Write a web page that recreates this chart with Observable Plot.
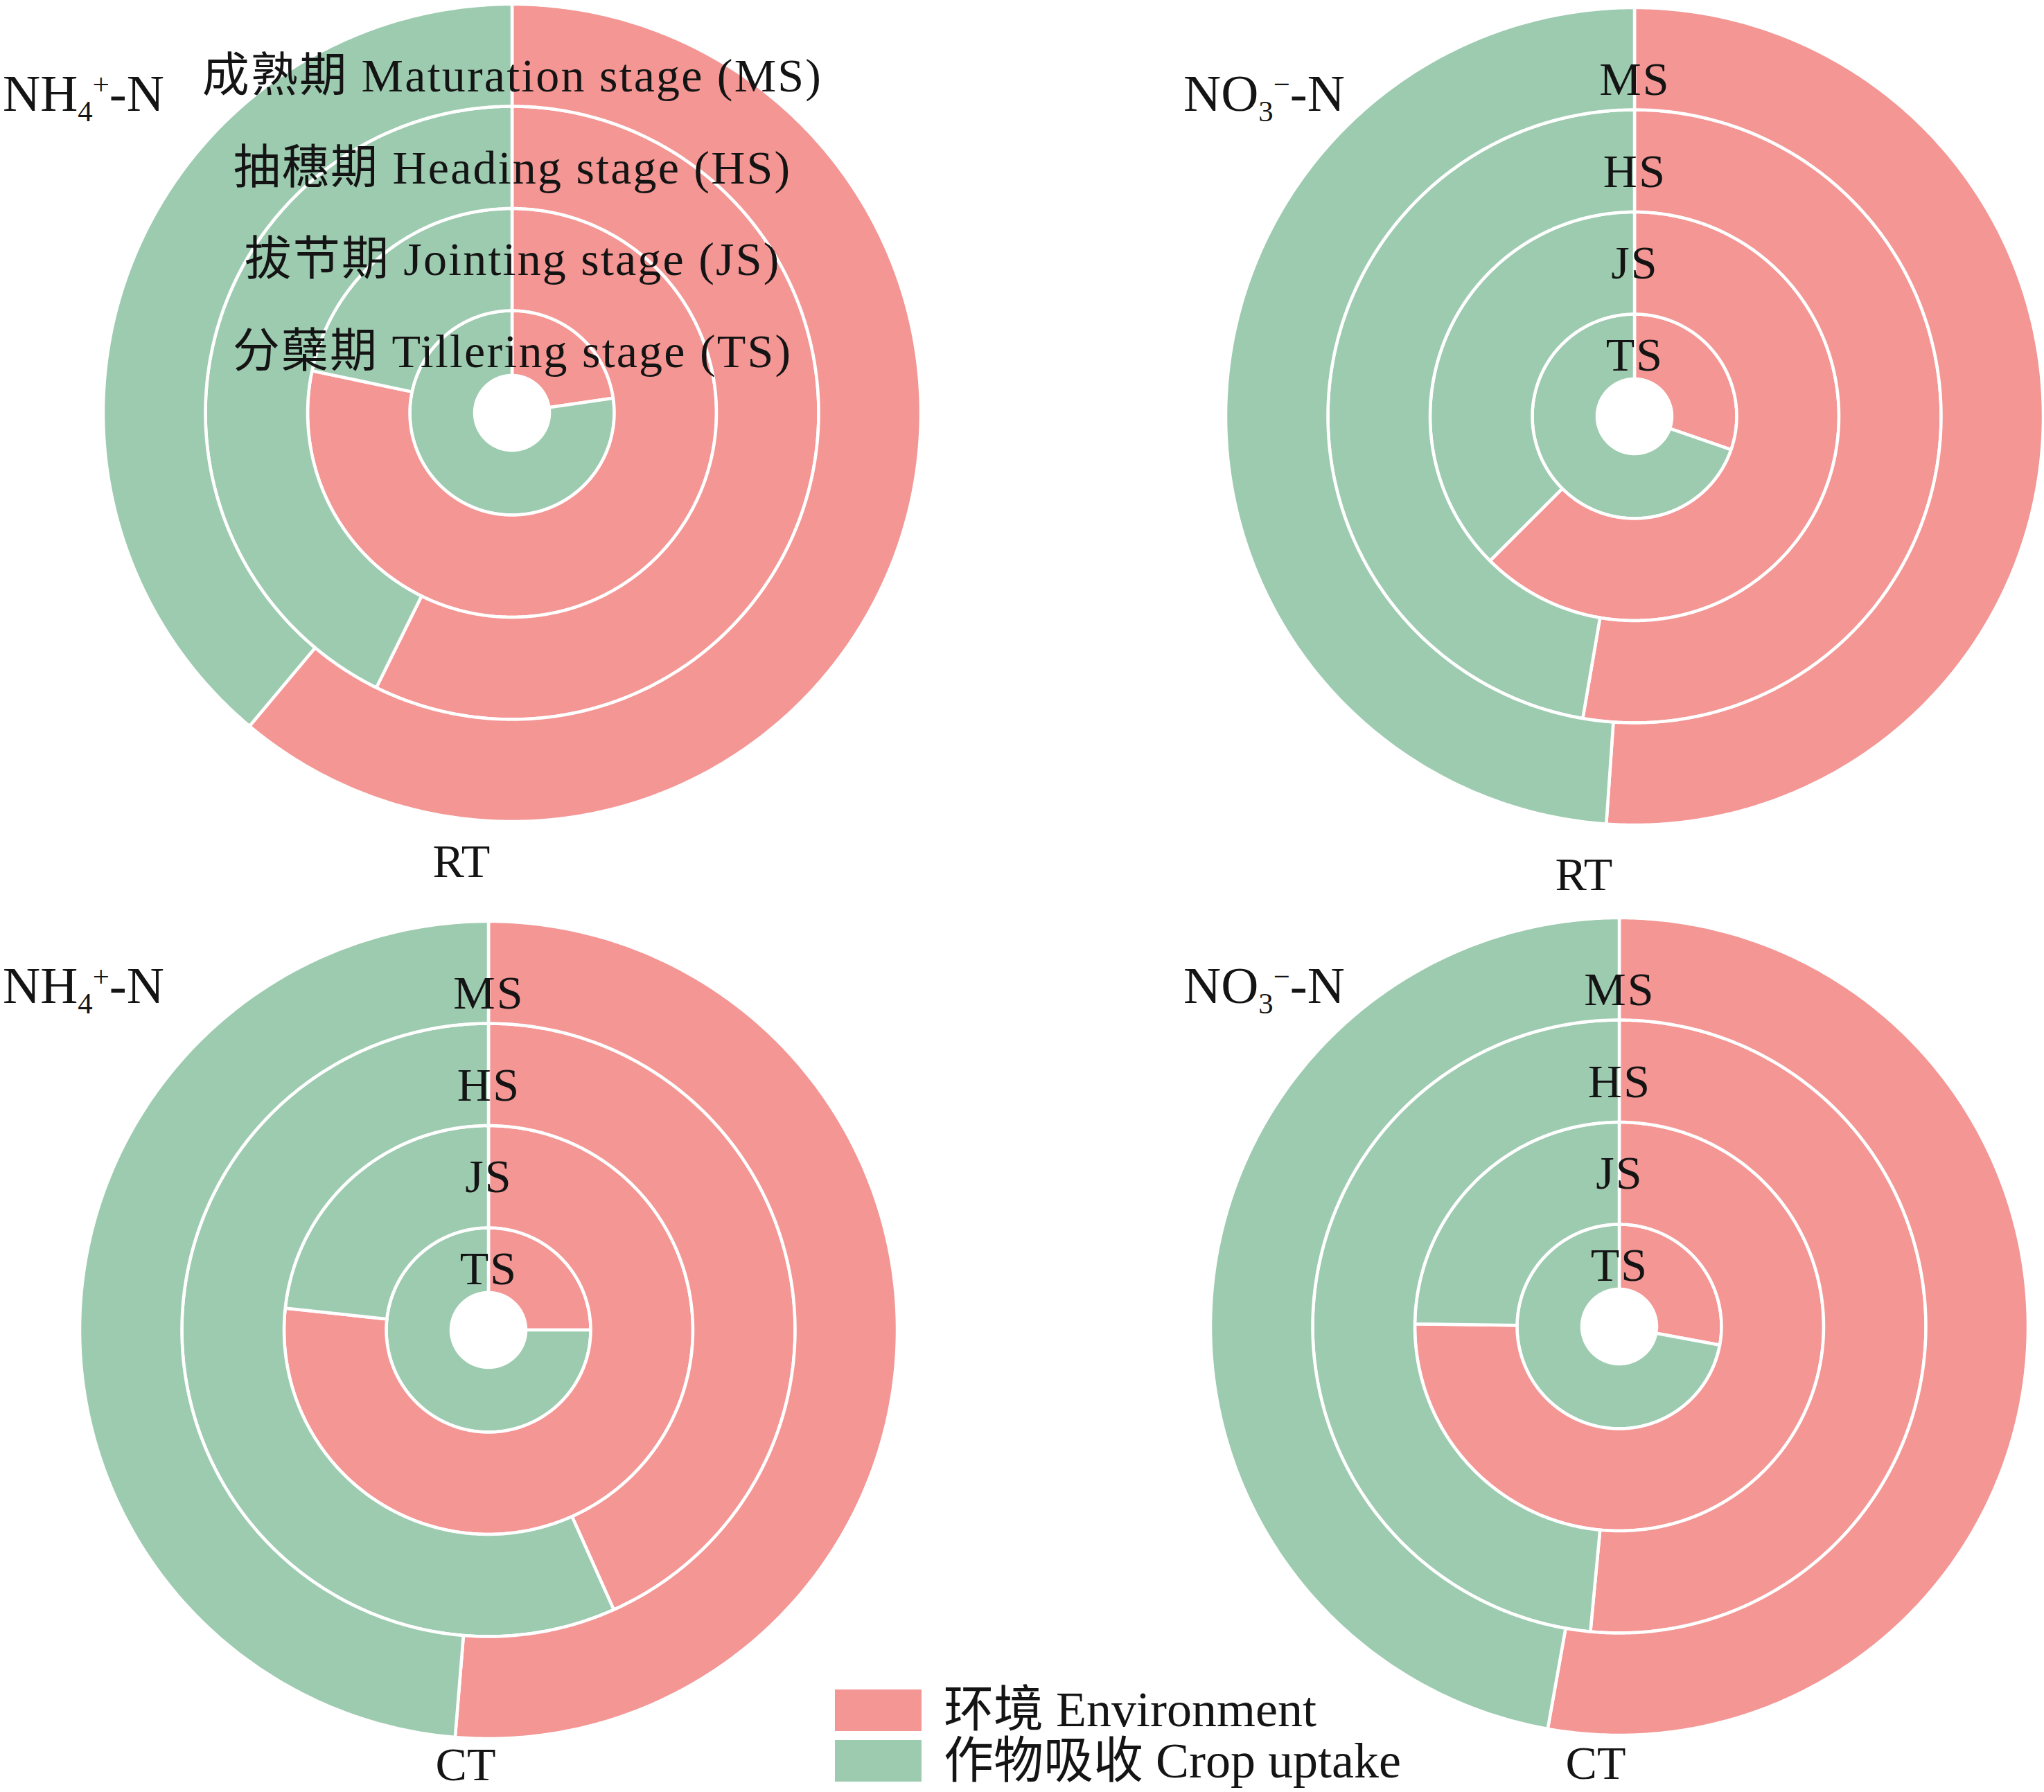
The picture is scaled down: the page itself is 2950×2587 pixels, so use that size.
<!DOCTYPE html>
<html><head><meta charset="utf-8">
<script src="https://cdn.jsdelivr.net/npm/d3@7"></script>
<script src="https://cdn.jsdelivr.net/npm/@observablehq/plot@0.6"></script>
<style>
html,body{margin:0;padding:0;background:#fff;}
#page{position:relative;width:2950px;height:2587px;overflow:hidden;font-family:"Liberation Serif","Times New Roman","Noto Sans CJK SC",serif;color:#141414;}
.panel{position:absolute;width:1200px;height:1200px;}
.panel svg{overflow:visible;}
.txt{position:absolute;line-height:1;white-space:nowrap;}
.title{font-size:75px;}
.sub{font-size:0.57em;vertical-align:-0.36em;}
.sup{font-size:0.57em;vertical-align:0.56em;}
.cap{font-size:68px;transform:translateX(-50%);}
.sw{position:absolute;width:125px;height:60px;}
.leg{font-size:72px;}
</style></head><body><div id="page"></div>
<script>
// ---- data ----
const stages = ["TS", "JS", "HS", "MS"];
const stageFull = ["分蘖期 Tillering stage (TS)", "拔节期 Jointing stage (JS)", "抽穗期 Heading stage (HS)", "成熟期 Maturation stage (MS)"];
const types = ["环境 Environment", "作物吸收 Crop uptake"];
const colors = ["#F39694", "#9DCBB0"];
// Environment share (%) by stage TS, JS, HS, MS; the rest is crop uptake
const envNH4RT = [22.7, 78.3, 57.3, 61.1];
const envNO3RT = [30.3, 62.5, 52.7, 51.1];
const envNH4CT = [25.0, 76.7, 43.3, 51.3];
const envNO3CT = [27.9, 75.2, 51.5, 52.8];
const panelTitles = ["NH4+-N", "NO3−-N", "NH4+-N", "NO3−-N"];
const panelTillage = ["RT", "RT", "CT", "CT"];

// ---- layout ----
const S = 1200, R = 590;
const ringEdges = [0.0915, 0.25, 0.5, 0.75, 1.0];
const centers = [[739, 596], [2359, 601], [705, 1920], [2337, 1915]];
const titlePos = [[4, 160], [1708, 160], [4, 1448], [1708, 1448]];
const capPos = [[666, 1266], [2286, 1285], [672, 2570], [2303, 2568]];

function sectors(env) {
  const rows = [];
  stages.forEach((s, i) => {
    const ri = ringEdges[i] * R, ro = ringEdges[i + 1] * R;
    const e = env[i] / 100;
    const parts = [[types[0], 0, e], [types[1], e, 1]];
    for (const [type, a0, a1] of parts) {
      const n = Math.max(2, Math.ceil((a1 - a0) * 720));
      for (let k = 0; k <= n; k++) {
        const t = (a0 + (a1 - a0) * k / n) * 2 * Math.PI;
        rows.push({id: s + type, type, xo: ro * Math.sin(t), yo: ro * Math.cos(t), xi: ri * Math.sin(t), yi: ri * Math.cos(t)});
      }
    }
  });
  return rows;
}

function donut(env, full) {
  const labels = stages.map((s, i) => ({x: 0, y: (i + 0.5) * 0.225 * R, label: full ? stageFull[i] : s}));
  return Plot.plot({
    width: S, height: S, margin: 0,
    style: {background: "transparent", overflow: "visible", letterSpacing: "2.2px"},
    x: {domain: [-S / 2, S / 2], axis: null},
    y: {domain: [-S / 2, S / 2], axis: null},
    color: {domain: types, range: colors},
    marks: [
      Plot.area(sectors(env), {x1: "xo", y1: "yo", x2: "xi", y2: "yi", z: "id", fill: "type", stroke: "white", strokeWidth: 4.5}),
      Plot.text(labels, {x: "x", y: "y", text: "label", lineAnchor: "bottom", fontSize: 68, fontFamily: '"Liberation Serif", "Noto Sans CJK SC", serif', fill: "#141414"})
    ]
  });
}

const page = document.getElementById("page");
const envs = [envNH4RT, envNO3RT, envNH4CT, envNO3CT];
envs.forEach((env, p) => {
  const div = document.createElement("div");
  div.className = "panel";
  div.style.left = (centers[p][0] - S / 2) + "px";
  div.style.top = (centers[p][1] - S / 2) + "px";
  div.appendChild(donut(env, p === 0));
  page.appendChild(div);
});

function titleHTML(t) {
  const m = t.match(/^(NH|NO)(\d)([+−])(-N)$/);
  return `${m[1]}<span class="sub">${m[2]}</span><span class="sup">${m[3]}</span>${m[4]}`;
}
panelTitles.forEach((t, p) => {
  const d = document.createElement("div");
  d.className = "txt title";
  d.innerHTML = titleHTML(t);
  d.style.left = titlePos[p][0] + "px";
  d.style.top = (titlePos[p][1] - 0.8375 * 75) + "px";
  page.appendChild(d);
});
panelTillage.forEach((t, p) => {
  const d = document.createElement("div");
  d.className = "txt cap";
  d.textContent = t;
  d.style.left = capPos[p][0] + "px";
  d.style.top = (capPos[p][1] - 0.8375 * 68) + "px";
  page.appendChild(d);
});
// legend
const legTop = [2439, 2512], legBase = [2492, 2566];
types.forEach((t, i) => {
  const sw = document.createElement("div");
  sw.className = "sw";
  sw.style.left = "1205px";
  sw.style.top = legTop[i] + "px";
  sw.style.background = colors[i];
  page.appendChild(sw);
  const d = document.createElement("div");
  d.className = "txt leg";
  d.textContent = t;
  d.style.left = "1362px";
  d.style.top = (legBase[i] - 0.8375 * 72) + "px";
  page.appendChild(d);
});
</script></body></html>
